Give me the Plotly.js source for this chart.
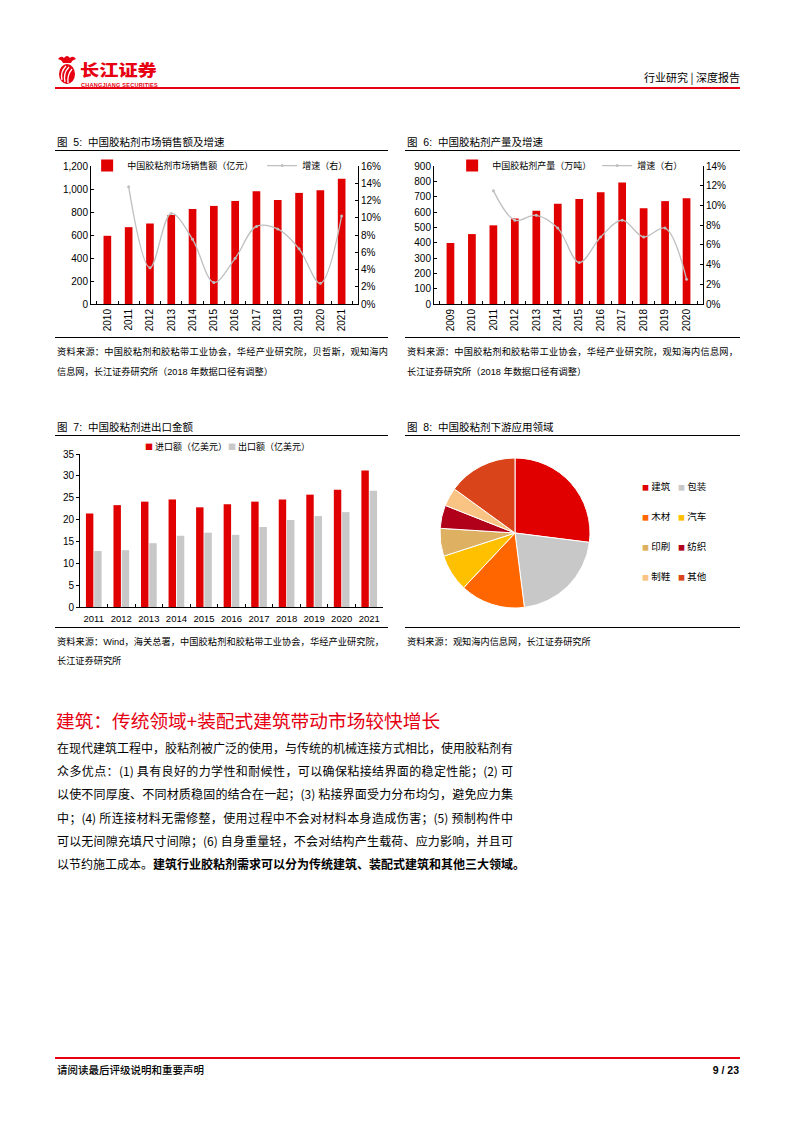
<!DOCTYPE html>
<html><head><meta charset="utf-8">
<script src="https://cdn.plot.ly/plotly-3.0.1.min.js"></script>
<style>
body{margin:0;width:794px;height:1123px;position:relative;background:#fff;font-family:"Liberation Sans","Noto Sans CJK SC",sans-serif;color:#000;overflow:hidden;}
.a{position:absolute;white-space:nowrap;}
.rule{position:absolute;height:1px;background:#000;}
.ftitle{position:absolute;font-size:10.5px;line-height:14px;white-space:nowrap;}
.src{position:absolute;font-size:9.2px;line-height:12px;white-space:nowrap;}
.just{text-align:justify;text-align-last:justify;white-space:normal;}
.para div{height:23.2px;line-height:23.2px;font-size:12px;text-align:justify;text-align-last:justify;width:456px;white-space:nowrap;}
</style>
</head><body>

<!-- header -->
<svg class="a" style="left:55px;top:53px" width="24" height="34" viewBox="0 0 24 34">
  <path d="M3 6 Q6 2 9 5 Q12 1 15 5 Q18 2 21 6 Q17 7 16 10 L8 10 Q7 7 3 6Z" fill="#E60012"/>
  <ellipse cx="12" cy="21" rx="8" ry="10" fill="#E60012"/>
  <path d="M7 27 Q5 19 11 13" stroke="#fff" stroke-width="1.3" fill="none"/>
  <path d="M10 29 Q8 20 14 14" stroke="#fff" stroke-width="1.3" fill="none"/>
  <path d="M13 30 Q12 22 17 16" stroke="#fff" stroke-width="1.3" fill="none"/>
</svg>
<div class="a" style="left:80px;top:61px;font-size:16px;line-height:16px;font-weight:900;color:#E60012;font-family:'Noto Sans CJK SC';transform:scaleX(1.2);transform-origin:0 0">长江证券</div>
<div class="a" style="left:81px;top:81.5px;font-size:5.6px;line-height:7px;font-weight:bold;color:#E60012;letter-spacing:0.2px">CHANGJIANG SECURITIES</div>
<div class="a" style="right:54px;top:70px;font-size:11px;line-height:14px;font-family:'Noto Sans CJK SC'">行业研究 | 深度报告</div>
<div class="a" style="left:55px;top:87px;width:685px;height:2px;background:#E60012"></div>

<!-- figure titles & rules -->
<div class="ftitle" style="left:57px;top:135px">图&nbsp;&nbsp;5:&nbsp;&nbsp;中国胶粘剂市场销售额及增速</div>
<div class="rule" style="left:55px;top:150px;width:333px"></div>
<div class="ftitle" style="left:407px;top:135px">图&nbsp;&nbsp;6:&nbsp;&nbsp;中国胶粘剂产量及增速</div>
<div class="rule" style="left:405px;top:150px;width:335px"></div>

<div id="c5" class="a" style="left:50px;top:155px;width:345px;height:180px"></div>
<div id="c6" class="a" style="left:400px;top:155px;width:345px;height:180px"></div>

<div class="rule" style="left:55px;top:337px;width:333px"></div>
<div class="rule" style="left:405px;top:337px;width:335px"></div>
<div class="src just" style="left:57px;top:346px;width:331px">资料来源：中国胶粘剂和胶粘带工业协会，华经产业研究院，贝哲斯，观知海内</div>
<div class="src" style="left:57px;top:366px">信息网，长江证券研究所（2018 年数据口径有调整）</div>
<div class="src just" style="left:407px;top:346px;width:331px">资料来源：中国胶粘剂和胶粘带工业协会，华经产业研究院，观知海内信息网，</div>
<div class="src" style="left:407px;top:366px">长江证券研究所（2018 年数据口径有调整）</div>

<div class="ftitle" style="left:57px;top:420px">图&nbsp;&nbsp;7:&nbsp;&nbsp;中国胶粘剂进出口金额</div>
<div class="rule" style="left:55px;top:435px;width:333px"></div>
<div class="ftitle" style="left:407px;top:420px">图&nbsp;&nbsp;8:&nbsp;&nbsp;中国胶粘剂下游应用领域</div>
<div class="rule" style="left:405px;top:435px;width:335px"></div>

<div id="c7" class="a" style="left:50px;top:436px;width:340px;height:200px"></div>
<div id="c8" class="a" style="left:400px;top:440px;width:345px;height:185px"></div>

<div class="rule" style="left:55px;top:627px;width:333px"></div>
<div class="rule" style="left:405px;top:627px;width:335px"></div>
<div class="src just" style="left:57px;top:636px;width:327px">资料来源：Wind，海关总署，中国胶粘剂和胶粘带工业协会，华经产业研究院，</div>
<div class="src" style="left:57px;top:655px">长江证券研究所</div>
<div class="src" style="left:407px;top:636px">资料来源：观知海内信息网，长江证券研究所</div>

<!-- section -->
<div class="a" style="left:56px;top:707px;font-size:18.7px;line-height:26px;color:#E60012;font-family:'Noto Sans CJK SC'">建筑：传统领域+装配式建筑带动市场较快增长</div>
<div class="a para" style="left:57px;top:736px;font-family:'Noto Sans CJK SC'">
<div>在现代建筑工程中，胶粘剂被广泛的使用，与传统的机械连接方式相比，使用胶粘剂有</div>
<div>众多优点：(1) 具有良好的力学性和耐候性，可以确保粘接结界面的稳定性能；(2) 可</div>
<div>以使不同厚度、不同材质稳固的结合在一起；(3) 粘接界面受力分布均匀，避免应力集</div>
<div>中；(4) 所连接材料无需修整，使用过程中不会对材料本身造成伤害；(5) 预制构件中</div>
<div>可以无间隙充填尺寸间隙；(6) 自身重量轻，不会对结构产生载荷、应力影响，并且可</div>
<div style="text-align-last:left">以节约施工成本。<b>建筑行业胶粘剂需求可以分为传统建筑、装配式建筑和其他三大领域。</b></div>
</div>

<!-- footer -->
<div class="a" style="left:55px;top:1057px;width:685px;height:1.5px;background:#E60012"></div>
<div class="a" style="left:57px;top:1063px;font-size:10.5px;line-height:14px;font-family:'Noto Sans CJK SC';font-weight:500">请阅读最后评级说明和重要声明</div>
<div class="a" style="right:55px;top:1063px;font-size:10.5px;line-height:14px;font-weight:bold">9 / 23</div>

<script>
// ---------- data ----------
const salesYears = ['2010','2011','2012','2013','2014','2015','2016','2017','2018','2019','2020','2021'];
const salesValues = [593,668,700,775,827,853,896,980,905,966,989,1090];
const salesGrowth = [null,13.6,4.2,10.5,7.5,2.5,5.3,9.0,8.7,6.4,2.4,10.2];

const prodYears = ['2009','2010','2011','2012','2013','2014','2015','2016','2017','2018','2019','2020'];
const prodValues = [398,456,513,558,608,653,684,729,792,625,671,690];
const prodGrowth = [null,null,11.5,8.5,9.0,7.7,4.2,6.8,8.5,6.8,7.7,2.5];

const tradeYears = ['2011','2012','2013','2014','2015','2016','2017','2018','2019','2020','2021'];
const importValues = [21.4,23.3,24.1,24.6,22.8,23.5,24.1,24.6,25.7,26.8,31.2];
const exportValues = [12.8,13.0,14.6,16.3,17.0,16.5,18.3,19.9,20.8,21.7,26.6];

const useLabels = ['建筑','包装','木材','汽车','印刷','纺织','制鞋','其他'];
const useShares = [27,21,14,8,6,5,4,15];
const useColors = ['#E00000','#C8C8C8','#FF6600','#FFC000','#DDB062','#B0001A','#F9C383','#D9441A'];

// ---------- styles ----------
const RED = '#E00000', GREY = '#C8C8C8', LINEGREY = '#BFBFBF';
const FONT = {family:'Liberation Sans, Arial, Noto Sans CJK SC', size:10, color:'#000'};
const cfg = {staticPlot:true, displayModeBar:false};

function axisBase(extra){
  return Object.assign({showline:true, linecolor:'#000', linewidth:1, ticks:'inside', ticklen:3,
    tickcolor:'#000', showgrid:false, zeroline:false, fixedrange:true}, extra);
}

// legend is anchored at the plot's right edge; w1/w2 set the entry widths
function comboChart(id, years, vals, growth, barName, yRange, yDtick, y2Range, margin, w1, w2){
  const traces = [
    {type:'bar', x:years, y:vals, name:barName, marker:{color:RED}, yaxis:'y', legendwidth:w1},
    {type:'scatter', mode:'lines+markers', x:years, y:growth, name:'增速（右）', yaxis:'y2', legendwidth:w2,
     line:{color:LINEGREY, width:1.3, shape:'spline', smoothing:1}, marker:{color:LINEGREY, size:3}}
  ];
  const layout = {
    width:345, height:180, margin:Object.assign({autoexpand:false}, margin),
    paper_bgcolor:'rgba(0,0,0,0)', plot_bgcolor:'rgba(0,0,0,0)',
    font:FONT, bargap:0.64, showlegend:true,
    legend:{orientation:'h', x:1.0005, xanchor:'right', y:1.003, yanchor:'middle', bgcolor:'rgba(0,0,0,0)',
      font:{family:'Noto Sans CJK SC', size:9}, itemwidth:30, tracegroupgap:0},
    xaxis:axisBase({type:'category', tickangle:-90, tickson:'boundaries', tickfont:{size:10}}),
    yaxis:axisBase({range:yRange, dtick:yDtick, tickformat:',d', tickfont:{size:10}}),
    yaxis2:axisBase({overlaying:'y', side:'right', range:y2Range, dtick:2, ticksuffix:'%', tickfont:{size:10}})
  };
  Plotly.newPlot(id, traces, layout, cfg);
}

comboChart('c5', salesYears, salesValues, salesGrowth, '中国胶粘剂市场销售额（亿元）',
  [0,1200], 200, [0,16], {l:41, r:37, t:11, b:31}, 130, 51);
comboChart('c6', prodYears, prodValues, prodGrowth, '中国胶粘剂产量（万吨）',
  [0,900], 100, [0,14], {l:34, r:42, t:11, b:31}, 100, 61);

// chart 7
(function(){
  const traces = [
    {type:'bar', x:tradeYears, y:importValues, name:'进口额（亿美元）', marker:{color:RED}, showlegend:false},
    {type:'bar', x:tradeYears, y:exportValues, name:'出口额（亿美元）', marker:{color:GREY}, showlegend:false}
  ];
  const legendFont = {family:'Noto Sans CJK SC', size:9, color:'#000'};
  const ann = [
    {name:traces[0].name, color:RED, x:(143-80)/303},
    {name:traces[1].name, color:GREY, x:(226-80)/303}
  ].map(o => ({xref:'paper', yref:'paper', x:o.x, xanchor:'left', y:1+(454-447)/153, yanchor:'middle',
     showarrow:false, font:legendFont,
     text:'<span style="color:'+o.color+';font-size:8px">■</span> '+o.name}));
  const layout = {
    width:340, height:200, margin:{l:30, r:7, t:18, b:29, autoexpand:false},
    paper_bgcolor:'rgba(0,0,0,0)', plot_bgcolor:'rgba(0,0,0,0)',
    font:FONT, barmode:'group', bargap:0.4, bargroupgap:0.1, showlegend:false, annotations:ann,
    xaxis:axisBase({type:'category', tickson:'boundaries', tickangle:0, tickfont:{size:9.5}, ticklabelstandoff:3}),
    yaxis:axisBase({range:[0,35], dtick:5, ticks:'outside', tickfont:{size:10}})
  };
  Plotly.newPlot('c7', traces, layout, cfg);
})();

// chart 8
(function(){
  const W = 345, H = 185, cx = 515-400, cy = 533-440, r = 75;
  const traces = [{type:'pie', labels:useLabels, values:useShares, sort:false, direction:'clockwise', rotation:0,
    marker:{colors:useColors, line:{color:'#fff', width:1}}, textinfo:'none', hoverinfo:'none', showlegend:false,
    domain:{x:[(cx-r)/W, (cx+r)/W], y:[1-(cy+r)/H, 1-(cy-r)/H]}}];
  const cols = [643-3, 679-3], rows = [486, 516, 546, 576];
  const ann = useLabels.map((lab, i) => ({xref:'paper', yref:'paper',
    x:(cols[i%2]-400)/W, xanchor:'left', y:1-(rows[Math.floor(i/2)]-440)/H, yanchor:'middle', showarrow:false,
    font:{family:'Noto Sans CJK SC', size:9.5, color:'#000'},
    text:'<span style="color:'+useColors[i]+';font-size:7px">■</span> '+lab}));
  const layout = {width:W, height:H, margin:{l:0,r:0,t:0,b:0}, paper_bgcolor:'rgba(0,0,0,0)', annotations:ann, showlegend:false};
  Plotly.newPlot('c8', traces, layout, cfg);
})();
</script>
</body></html>
